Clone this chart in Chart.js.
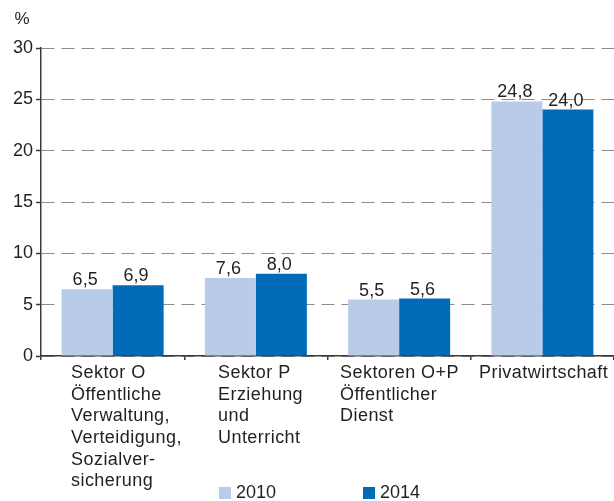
<!DOCTYPE html>
<html>
<head>
<meta charset="utf-8">
<script src="https://cdn.jsdelivr.net/npm/chart.js@4/dist/chart.umd.min.js"></script>
<style>
  html, body { margin: 0; padding: 0; background: #ffffff; }
  #wrap { width: 614px; height: 501px; position: relative; }
</style>
</head>
<body>
<div id="wrap"><canvas id="c" width="614" height="501"></canvas></div>
<script>
// ---- data ----
const categories = ['Sektor O', 'Sektor P', 'Sektoren O+P', 'Privatwirtschaft'];
const categoryLines = [
  ['Sektor O', 'Öffentliche', 'Verwaltung,', 'Verteidigung,', 'Sozialver-', 'sicherung'],
  ['Sektor P', 'Erziehung', 'und', 'Unterricht'],
  ['Sektoren O+P', 'Öffentlicher', 'Dienst'],
  ['Privatwirtschaft']
];
const seriesNames = ['2010', '2014'];
const values2010 = [6.5, 7.6, 5.5, 24.8];
const values2014 = [6.9, 8.0, 5.6, 24.0];
const yTicks = [0, 5, 10, 15, 20, 25, 30];
const unitLabel = '%';

// ---- style ----
const FONT = '"Liberation Sans", Arial, Helvetica, sans-serif';
const TEXT = '#231f20';
const LIGHT = '#b8cce9';
const DARK = '#006cb7';
const AXIS = '#3a3a3a';
const GRID = '#8c8c8c';
const labelOffsets = [-41.6, -37.9, -59.1, -63.4];
const legendX = [219, 363];

const fmt = v => v.toFixed(1).replace('.', ',');

const textPlugin = {
  id: 'textPlugin',
  afterDraw(chart) {
    const ctx = chart.ctx;
    const xs = chart.scales.x;
    ctx.save();
    ctx.fillStyle = TEXT;
    // unit label
    ctx.font = '17px ' + FONT;
    ctx.textAlign = 'center';
    ctx.textBaseline = 'middle';
    ctx.fillText(unitLabel, 22, 19);

    // value labels
    ctx.font = '18px ' + FONT;
    ctx.textAlign = 'center';
    ctx.textBaseline = 'alphabetic';
    chart.data.datasets.forEach((ds, d) => {
      const meta = chart.getDatasetMeta(d);
      meta.data.forEach((bar, i) => {
        ctx.fillText(fmt(ds.data[i]), bar.x - 2, bar.y - 4);
      });
    });

    // category labels (left-aligned blocks)
    ctx.font = '18px ' + FONT;
    try { ctx.letterSpacing = '0.45px'; } catch (e) {}
    ctx.textAlign = 'left';
    ctx.textBaseline = 'middle';
    categoryLines.forEach((lines, i) => {
      const x0 = xs.getPixelForValue(i) + labelOffsets[i];
      lines.forEach((ln, k) => {
        ctx.fillText(ln, x0, 373 + k * 21.7);
      });
    });
    try { ctx.letterSpacing = '0px'; } catch (e) {}

    // legend
    ctx.font = '18px ' + FONT;
    chart.data.datasets.forEach((ds, d) => {
      const x = legendX[d];
      ctx.fillStyle = ds.backgroundColor;
      ctx.fillRect(x, 487, 12, 12);
      ctx.fillStyle = TEXT;
      ctx.textAlign = 'left';
      ctx.textBaseline = 'middle';
      ctx.fillText(ds.label, x + 17, 493);
    });
    ctx.restore();
  }
};

new Chart(document.getElementById('c'), {
  type: 'bar',
  data: {
    labels: categories,
    datasets: [
      { label: seriesNames[0], data: values2010, backgroundColor: LIGHT, borderWidth: 0 },
      { label: seriesNames[1], data: values2014, backgroundColor: DARK, borderWidth: 0 }
    ]
  },
  options: {
    responsive: false,
    animation: false,
    devicePixelRatio: 1,
    layout: { padding: { top: 48, left: 0, right: 0, bottom: 0 } },
    datasets: { bar: { categoryPercentage: 0.712, barPercentage: 1.0 } },
    plugins: { legend: { display: false }, tooltip: { enabled: false } },
    scales: {
      x: {
        type: 'category',
        offset: true,
        ticks: { display: false },
        grid: { display: true, offset: true, drawOnChartArea: false, drawTicks: true, tickLength: 4, color: AXIS, lineWidth: 1.5 },
        border: { display: true, color: AXIS, width: 1.5 },
        afterFit(scale) { scale.height = 145; }
      },
      y: {
        min: 0,
        max: 30,
        afterBuildTicks(scale) { scale.ticks = yTicks.map(v => ({ value: v })); },
        ticks: { font: { family: FONT, size: 18 }, color: TEXT, padding: 3 },
        grid: { color: GRID, lineWidth: 1, tickLength: 5, tickColor: AXIS, tickWidth: 1.5, tickBorderDash: [], drawTicks: true },
        border: { display: true, color: AXIS, width: 1.5, dash: [13, 7] },
        afterFit(scale) { scale.width = 41; }
      }
    }
  },
  plugins: [textPlugin]
});
</script>
</body>
</html>
